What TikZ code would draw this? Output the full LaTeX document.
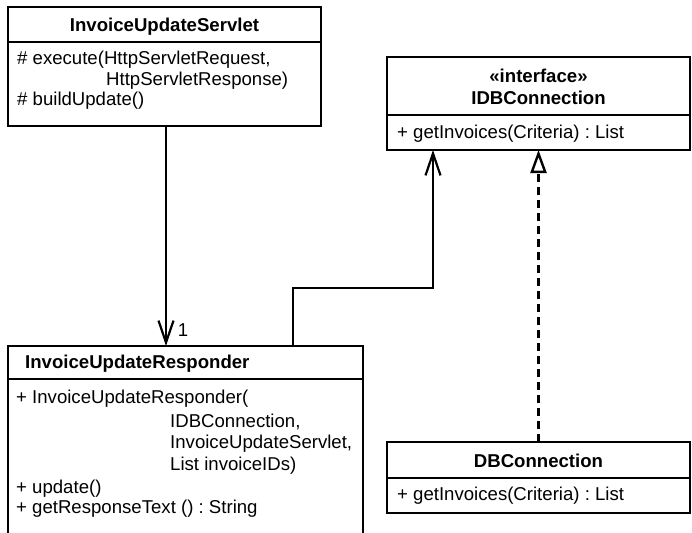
\documentclass[tikz,border=0pt]{standalone}
\usepackage{fontspec}
\setmainfont{Liberation Sans}
\usetikzlibrary{arrows.meta}
\frenchspacing
\begin{document}
\begin{tikzpicture}[x=1pt,y=-1pt,
  classbox/.style={draw, line width=2.6pt, rectangle, anchor=north west, inner sep=0pt, outer sep=0pt},
  divider/.style={line width=1.2pt},
  txt/.style={anchor=base west, inner sep=0pt, font=\fontsize{18.6}{20}\selectfont},
  ttl/.style={anchor=base, inner sep=0pt, font=\fontsize{18.6}{20}\selectfont\bfseries},
  assoc/.style={line width=2.2pt, -{Straight Barb[length=22pt,width=15pt]}},
  realize/.style={line width=2.2pt, dash pattern=on 8pt off 5pt, -{Triangle[open,length=23pt,width=16pt,line width=2.4pt]}}
]
\clip (0,0) rectangle (692,532);

% classes
\node[classbox, minimum width=313pt, minimum height=119pt] (servlet) at (8,7) {};
\node[classbox, minimum width=303pt, minimum height=93pt] (idb) at (387,57) {};
\node[classbox, minimum width=355pt, minimum height=200pt] (resp) at (8,346) {};
\node[classbox, minimum width=303pt, minimum height=71pt] (db) at (387,442) {};

% dividers
\draw[divider] (servlet.west |- 0,42) -- (servlet.east |- 0,42);
\draw[divider] (idb.west |- 0,115) -- (idb.east |- 0,115);
\draw[divider] (resp.west |- 0,379) -- (resp.east |- 0,379);
\draw[divider] (db.west |- 0,478) -- (db.east |- 0,478);

% servlet texts
\node[ttl] (servletT) at (servlet.north |- 0,32) {InvoiceUpdateServlet};
\node[txt] (s1) at (17,65) {\# execute(HttpServletRequest,};
\node[txt] (s2) at (106,86) {HttpServletResponse)};
\node[txt] (s3) at (17,106) {\# buildUpdate()};

% idb texts
\node[ttl] (idbS) at (idb.north |- 0,83) {«interface»};
\node[ttl] (idbT) at (idb.north |- 0,105) {IDBConnection};
\node[txt] (i1) at (397,138) {+ getInvoices(Criteria) : List};

% responder texts
\node[ttl, anchor=base west] (respT) at (25,368) {InvoiceUpdateResponder};
\node[txt] (r1) at (16,403) {+ InvoiceUpdateResponder(};
\node[txt] (r2) at (170,427) {IDBConnection,};
\node[txt] (r3) at (170,448) {InvoiceUpdateServlet,};
\node[txt] (r4) at (170,470) {List invoiceIDs)};
\node[txt] (r5) at (16,493) {+ update()};
\node[txt] (r6) at (16,513) {+ getResponseText () : String};

% db texts
\node[ttl] (dbT) at (db.north |- 0,467) {DBConnection};
\node[txt] (d1) at (397,500) {+ getInvoices(Criteria) : List};

% connectors
\coordinate (sv) at (166,126);
\draw[assoc] (servlet.south -| sv) -- (resp.north -| sv);
\node[txt, anchor=center] (mult) at (183,330) {1};

\coordinate (rx) at (293,0);
\coordinate (ix) at (433,0);
\draw[assoc] (resp.north -| rx) -- ++(0,-58) -| (idb.south -| ix);

\draw[realize] (db.north) -- (idb.south);
\end{tikzpicture}
\end{document}
